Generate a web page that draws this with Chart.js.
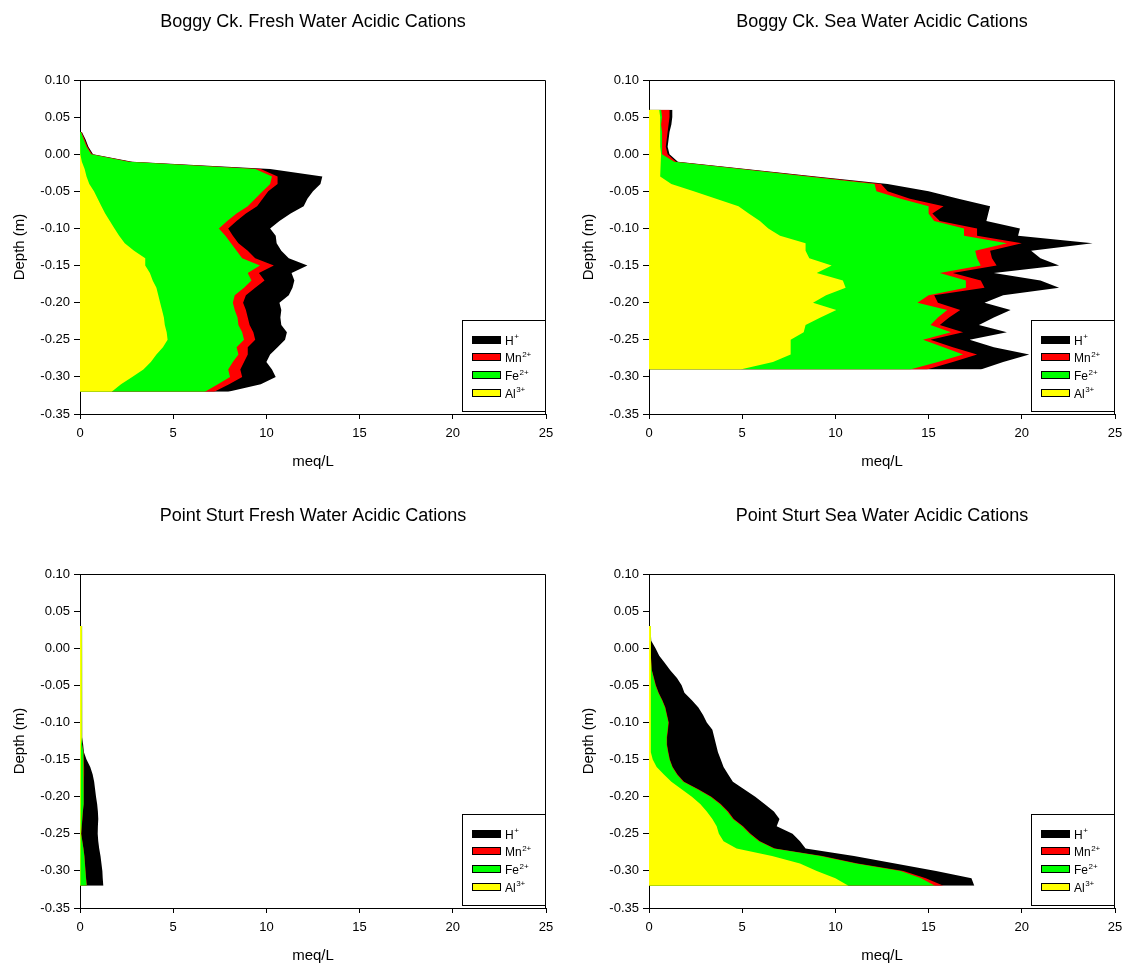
<!DOCTYPE html>
<html>
<head>
<meta charset="utf-8">
<script src="https://cdn.jsdelivr.net/npm/chart.js@4.4.0/dist/chart.umd.min.js"></script>
<style>
  html, body { margin: 0; padding: 0; background: #fff; overflow: hidden; width: 1124px; height: 963px; position: relative; }
  canvas { position: absolute; }
</style>
</head>
<body>
<canvas id="bcFresh" width="562" height="481" style="left:0;top:0"></canvas>
<canvas id="bcSea" width="562" height="481" style="left:569px;top:0"></canvas>
<canvas id="ptFresh" width="562" height="481" style="left:0;top:494px"></canvas>
<canvas id="ptSea" width="562" height="481" style="left:569px;top:494px"></canvas>
<script>
// Boggy Ck. fresh water (meq/L per depth)
const bcFreshDepth = [0.03, 0.02, 0.01, 0.00, -0.01, -0.02, -0.03, -0.04, -0.05, -0.06, -0.07, -0.08, -0.09, -0.10, -0.11, -0.12, -0.13, -0.14, -0.15, -0.16, -0.17, -0.18, -0.19, -0.20, -0.21, -0.22, -0.23, -0.24, -0.25, -0.26, -0.27, -0.28, -0.29, -0.30, -0.31, -0.32];
const bcFreshAl = [0, 0, 0, 0.05, 0.1, 0.25, 0.35, 0.5, 0.75, 0.95, 1.15, 1.35, 1.6, 1.85, 2.1, 2.4, 2.9, 3.5, 3.5, 3.75, 3.9, 4.1, 4.2, 4.3, 4.4, 4.5, 4.55, 4.65, 4.7, 4.45, 4.1, 3.8, 3.4, 2.8, 2.2, 1.7];
const bcFreshFe = [0.05, 0.2, 0.35, 0.55, 2.5, 9.15, 9.95, 9.7, 9.05, 8.45, 7.85, 7.05, 6.3, 5.6, 5.7, 5.7, 5.5, 5.2, 6.15, 5.25, 5.3, 4.7, 4.1, 3.9, 3.9, 3.95, 3.95, 4.05, 4.1, 3.95, 4.4, 4.4, 4.55, 5.25, 5.2, 5.0];
const bcFreshMn = [0.03, 0.05, 0.05, 0.05, 0.1, 0.3, 0.3, 0.4, 0.3, 0.4, 0.5, 0.5, 0.5, 0.5, 0.4, 0.4, 0.6, 0.7, 0.75, 0.6, 0.7, 0.6, 0.6, 0.55, 0.6, 0.55, 0.6, 0.6, 0.6, 0.6, 0.5, 0.6, 0.65, 0.65, 0.6, 0.5];
const bcFreshH = [0.02, 0.05, 0.05, 0.05, 0.1, 0.5, 2.4, 2.3, 2.4, 2.4, 2.5, 2.4, 2.3, 2.25, 2.3, 2.05, 1.8, 1.8, 1.8, 1.75, 1.6, 2.0, 2.3, 1.95, 1.9, 1.75, 1.7, 1.8, 1.6, 1.6, 1.2, 1.2, 1.7, 1.8, 1.7, 0.75];

// Boggy Ck. sea water
const bcSeaDepth = [0.06, 0.05, 0.04, 0.03, 0.02, 0.01, 0.00, -0.01, -0.02, -0.03, -0.04, -0.05, -0.06, -0.07, -0.08, -0.09, -0.10, -0.11, -0.12, -0.13, -0.14, -0.15, -0.16, -0.17, -0.18, -0.19, -0.20, -0.21, -0.22, -0.23, -0.24, -0.25, -0.26, -0.27, -0.28, -0.29];
const bcSeaAl = [0.55, 0.6, 0.6, 0.6, 0.6, 0.6, 0.65, 0.63, 0.6, 0.6, 1.2, 2.4, 3.6, 4.8, 5.35, 5.95, 6.4, 7.03, 8.4, 8.4, 8.6, 9.8, 9.0, 10.4, 10.55, 9.5, 8.8, 10.05, 9.2, 8.4, 8.3, 7.6, 7.6, 7.6, 6.65, 4.9];
const bcSeaFe = [0.1, 0.1, 0.05, 0.1, 0.1, 0.1, 0.05, 0.72, 4.3, 7.9, 10.9, 9.8, 9.9, 10.2, 9.65, 9.35, 10.5, 9.87, 10.8, 9.1, 9.0, 8.0, 6.6, 6.6, 6.45, 5.5, 5.6, 5.95, 6.3, 6.7, 7.9, 7.1, 8.2, 9.25, 8.85, 9.1];
const bcSeaMn = [0.45, 0.4, 0.4, 0.3, 0.25, 0.2, 0.3, 0.1, 0.15, 0.25, 0.35, 0.6, 0.5, 0.8, 0.2, 0.3, 0.7, 0.7, 0.8, 0.8, 0.8, 0.85, 0.7, 0.8, 1.0, 0.3, 1.1, 0.7, 0.6, 0.5, 0.65, 0.4, 0.5, 0.75, 0.8, 0.9];
const bcSeaH = [0.15, 0.15, 0.15, 0.1, 0.1, 0.1, 0.1, 0.1, 0.15, 0.2, 0.35, 2.2, 2.6, 2.5, 3.0, 2.5, 2.3, 2.2, 3.8, 2.2, 2.6, 3.35, 2.2, 3.2, 4.0, 3.7, 2.5, 2.7, 2.4, 2.1, 2.35, 2.1, 2.2, 2.8, 2.7, 2.9];

// Point Sturt fresh water
const ptFreshDepth = [0.03, 0.02, 0.01, 0.00, -0.01, -0.02, -0.03, -0.04, -0.05, -0.06, -0.07, -0.08, -0.09, -0.10, -0.11, -0.12, -0.13, -0.14, -0.15, -0.16, -0.17, -0.18, -0.19, -0.20, -0.21, -0.22, -0.23, -0.24, -0.25, -0.26, -0.27, -0.28, -0.29, -0.30, -0.31, -0.32];
const ptFreshAl = [0.1, 0.1, 0.1, 0.1, 0.1, 0.1, 0.1, 0.1, 0.1, 0.1, 0.1, 0.1, 0.1, 0.09, 0.08, 0.06, 0.05, 0.04, 0.03, 0.03, 0.03, 0.02, 0.02, 0.02, 0.02, 0.02, 0.02, 0.02, 0.02, 0.02, 0.02, 0.02, 0.02, 0.02, 0.02, 0.02];
const ptFreshFe = [0.01, 0.01, 0.01, 0.01, 0.01, 0.01, 0.01, 0.01, 0.01, 0.01, 0.01, 0.01, 0.01, 0.02, 0.03, 0.06, 0.1, 0.14, 0.16, 0.18, 0.18, 0.18, 0.18, 0.17, 0.15, 0.13, 0.1, 0.07, 0.04, 0.1, 0.16, 0.21, 0.24, 0.27, 0.3, 0.34];
const ptFreshMn = [0, 0, 0, 0, 0, 0, 0, 0, 0, 0, 0, 0, 0, 0, 0, 0.01, 0.01, 0.01, 0.01, 0.01, 0.01, 0.01, 0.01, 0.01, 0.01, 0.01, 0.01, 0.01, 0.01, 0.01, 0.01, 0.01, 0.01, 0.01, 0.01, 0.01];
const ptFreshH = [0, 0, 0, 0, 0, 0, 0, 0, 0, 0, 0, 0, 0, 0, 0.01, 0.01, 0.01, 0.02, 0.15, 0.33, 0.46, 0.55, 0.6, 0.66, 0.74, 0.8, 0.85, 0.86, 0.88, 0.85, 0.84, 0.86, 0.88, 0.9, 0.89, 0.88];

// Point Sturt sea water
const ptSeaDepth = [0.03, 0.02, 0.01, 0.00, -0.01, -0.02, -0.03, -0.04, -0.05, -0.06, -0.07, -0.08, -0.09, -0.10, -0.11, -0.12, -0.13, -0.14, -0.15, -0.16, -0.17, -0.18, -0.19, -0.20, -0.21, -0.22, -0.23, -0.24, -0.25, -0.26, -0.27, -0.28, -0.29, -0.30, -0.31, -0.32];
const ptSeaAl = [0.1, 0.1, 0.1, 0.1, 0.1, 0.1, 0.1, 0.1, 0.1, 0.1, 0.1, 0.1, 0.1, 0.1, 0.1, 0.1, 0.08, 0.1, 0.2, 0.41, 0.8, 1.2, 1.75, 2.3, 2.75, 3.1, 3.4, 3.63, 3.75, 4.0, 4.7, 6.6, 8.1, 9.0, 10.0, 10.7];
const ptSeaFe = [0, 0, 0, 0, 0, 0.02, 0.05, 0.15, 0.25, 0.4, 0.6, 0.76, 0.85, 0.94, 0.9, 0.85, 0.87, 0.92, 0.9, 0.84, 0.7, 0.64, 0.85, 1.0, 1.05, 1.1, 1.1, 1.37, 1.65, 1.9, 2.0, 2.6, 3.0, 4.5, 4.6, 4.64];
const ptSeaMn = [0, 0, 0, 0, 0, 0.01, 0.01, 0.02, 0.02, 0.02, 0.02, 0.02, 0.02, 0.02, 0.02, 0.02, 0.02, 0.02, 0.02, 0.02, 0.03, 0.04, 0.05, 0.05, 0.05, 0.05, 0.05, 0.05, 0.05, 0.05, 0.05, 0.1, 0.1, 0.15, 0.25, 0.46];
const ptSeaH = [0, 0, 0.02, 0.25, 0.45, 0.72, 0.99, 1.23, 1.38, 1.38, 1.58, 1.77, 1.93, 2.04, 2.38, 2.53, 2.63, 2.66, 2.73, 2.73, 2.72, 2.62, 2.45, 2.35, 2.35, 2.45, 2.45, 1.8, 2.25, 2.15, 1.65, 1.7, 2.0, 1.75, 2.45, 1.65];

const FONT = '"Liberation Sans", Arial, Helvetica, sans-serif';

// legend entries, top to bottom
const legendItems = [
  { name: 'H', sup: '+', color: '#000000' },
  { name: 'Mn', sup: '2+', color: '#ff0000' },
  { name: 'Fe', sup: '2+', color: '#00ff00' },
  { name: 'Al', sup: '3+', color: '#ffff00' }
];

const framePlugin = {
  id: 'frame',
  afterDatasetsDraw(chart) {
    const { ctx, chartArea: a } = chart;
    ctx.save();
    ctx.strokeStyle = '#000';
    ctx.lineWidth = 1;
    ctx.beginPath();
    ctx.moveTo(Math.round(a.left), Math.round(a.top) + 0.5);
    ctx.lineTo(Math.round(a.right) - 0.5, Math.round(a.top) + 0.5);
    ctx.lineTo(Math.round(a.right) - 0.5, Math.round(a.bottom));
    ctx.stroke();
    ctx.restore();
  }
};

const titlePlugin = {
  id: 'panelTitle',
  afterDraw(chart, args, opts) {
    const { ctx, chartArea: a } = chart;
    ctx.save();
    ctx.font = '18px ' + FONT;
    ctx.fillStyle = '#000';
    ctx.textAlign = 'center';
    ctx.textBaseline = 'middle';
    ctx.fillText(opts.text, (a.left + a.right) / 2, a.top - 58);
    ctx.restore();
  }
};

const legendPlugin = {
  id: 'boxLegend',
  afterDraw(chart) {
    const { ctx, chartArea: a } = chart;
    const bx = Math.round(a.right) - 84, by = Math.round(a.bottom) - 94;
    ctx.save();
    ctx.fillStyle = '#fff';
    ctx.fillRect(bx, by, 84, 92);
    ctx.strokeStyle = '#000';
    ctx.lineWidth = 1;
    ctx.strokeRect(bx + 0.5, by + 0.5, 83, 91);
    legendItems.forEach((it, i) => {
      const cy = by + 19.5 + i * 17.8;
      ctx.fillStyle = it.color;
      ctx.fillRect(bx + 10, Math.round(cy - 4), 29, 8);
      ctx.strokeStyle = '#000';
      ctx.strokeRect(bx + 10.5, Math.round(cy - 4) + 0.5, 28, 7);
      ctx.fillStyle = '#000';
      ctx.textBaseline = 'alphabetic';
      ctx.textAlign = 'left';
      ctx.font = '12px ' + FONT;
      ctx.fillText(it.name, bx + 43, cy + 5);
      const w = ctx.measureText(it.name).width;
      ctx.font = '8px ' + FONT;
      ctx.fillText(it.sup, bx + 43 + w + 0.5, cy - 0.5);
    });
    ctx.restore();
  }
};

function stack(parts) {
  let run = parts[0].map(() => 0);
  return parts.map(arr => {
    run = run.map((r, i) => r + arr[i]);
    return run.slice();
  });
}

function makeChart(id, title, depth, al, fe, mn, h) {
  const canvas = document.getElementById(id);
  const W = canvas.width, H = canvas.height;
  const cum = stack([al, fe, mn, h]);
  const colors = ['#ffff00', '#00ff00', '#ff0000', '#000000'];
  const names = ['Al3+', 'Fe2+', 'Mn2+', 'H+'];
  const datasets = cum.map((vals, k) => ({
    label: names[k],
    data: depth.map((d, i) => ({ x: vals[i], y: d })),
    backgroundColor: colors[k],
    borderColor: colors[k],
    borderWidth: 0,
    pointRadius: 0,
    tension: 0,
    fill: 'origin'
  }));

  return new Chart(canvas, {
    type: 'line',
    data: { datasets },
    plugins: [framePlugin, titlePlugin, legendPlugin],
    options: {
      indexAxis: 'y',
      responsive: false,
      animation: false,
      devicePixelRatio: 1,
      layout: { padding: { top: 80, left: 0, right: W - 546, bottom: 0 } },
      plugins: {
        legend: { display: false },
        tooltip: { enabled: false },
        panelTitle: { text: title }
      },
      scales: {
        x: {
          type: 'linear',
          position: 'bottom',
          min: 0,
          max: 25,
          ticks: { stepSize: 5, color: '#000', font: { family: FONT, size: 13 }, padding: 7, maxRotation: 0 },
          grid: { drawOnChartArea: false, drawTicks: true, tickLength: 5, color: '#000' },
          border: { display: true, color: '#000' },
          title: { display: true, text: 'meq/L', color: '#000', font: { family: FONT, size: 15 }, padding: { top: 0, bottom: 10 } },
          afterFit(scale) { scale.height = H - 414; }
        },
        y: {
          type: 'linear',
          position: 'left',
          min: -0.35,
          max: 0.10,
          ticks: {
            stepSize: 0.05,
            color: '#000',
            font: { family: FONT, size: 13 },
            padding: 4,
            callback: v => (Math.abs(v) < 1e-9 ? 0 : v).toFixed(2)
          },
          grid: { drawOnChartArea: false, drawTicks: true, tickLength: 6, color: '#000' },
          border: { display: true, color: '#000' },
          title: { display: true, text: 'Depth (m)', color: '#000', font: { family: FONT, size: 15 }, padding: { top: 11, bottom: 0 } },
          afterFit(scale) { scale.width = 80; }
        }
      }
    }
  });
}

makeChart('bcFresh', 'Boggy Ck. Fresh Water Acidic Cations', bcFreshDepth, bcFreshAl, bcFreshFe, bcFreshMn, bcFreshH);
makeChart('bcSea', 'Boggy Ck. Sea Water Acidic Cations', bcSeaDepth, bcSeaAl, bcSeaFe, bcSeaMn, bcSeaH);
makeChart('ptFresh', 'Point Sturt Fresh Water Acidic Cations', ptFreshDepth, ptFreshAl, ptFreshFe, ptFreshMn, ptFreshH);
makeChart('ptSea', 'Point Sturt Sea Water Acidic Cations', ptSeaDepth, ptSeaAl, ptSeaFe, ptSeaMn, ptSeaH);
</script>
</body>
</html>
